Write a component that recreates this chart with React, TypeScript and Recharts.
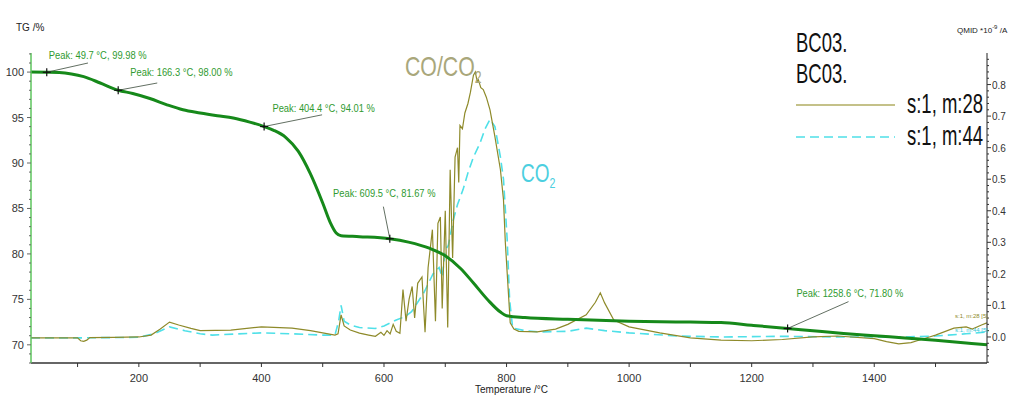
import React from "react";
import { ComposedChart, Line, XAxis, YAxis, ReferenceLine, ReferenceDot } from "recharts";

// TG curve (left axis, %)
const tgTemp = [24, 50, 70, 90, 110, 137, 166.3, 190, 218, 246, 272, 300, 328, 354, 381, 404.4, 420, 440, 460, 480, 500, 512, 522, 530, 560, 609.5, 640, 675, 700, 725, 746, 770, 790, 800, 830, 900, 1000, 1100, 1150, 1200, 1258.6, 1300, 1350, 1400, 1450, 1500, 1550, 1584];
const tgValue = [100, 99.98, 99.95, 99.8, 99.5, 98.8, 98.0, 97.65, 97.1, 96.4, 95.85, 95.5, 95.2, 94.95, 94.5, 94.01, 93.6, 92.8, 91.3, 88.8, 85.6, 83.5, 82.3, 82.0, 81.9, 81.67, 81.3, 80.6, 79.8, 78.4, 76.8, 74.9, 73.6, 73.2, 73.0, 72.8, 72.6, 72.5, 72.45, 72.15, 71.8, 71.55, 71.25, 71.0, 70.75, 70.5, 70.2, 70.0];

// QMID s:1, m:28 (right axis, 10^-9 A)
const m28Temp = [24, 60, 100, 105, 110, 115, 120, 160, 200, 220, 235, 250, 265, 285, 300, 350, 400, 450, 480, 500, 520, 525, 530, 535, 545, 560, 575, 586, 595, 600, 605, 610, 615, 620, 626, 631, 636, 641, 646, 650, 655, 662, 667, 672, 679, 684, 688, 692, 695, 700, 704, 708, 712, 716, 720, 722, 724, 728, 732, 737, 741, 746, 749, 752, 754, 758, 762, 767, 773, 781, 790, 795, 798, 803, 806, 812, 820, 850, 880, 900, 930, 945, 953, 960, 975, 1000, 1050, 1100, 1150, 1200, 1250, 1300, 1340, 1400, 1420, 1440, 1460, 1470, 1490, 1500, 1530, 1550, 1560, 1575, 1584];
const m28Value = [-0.003, -0.003, -0.003, -0.012, -0.014, -0.01, -0.002, -0.001, 0.0, 0.006, 0.025, 0.047, 0.038, 0.027, 0.02, 0.022, 0.032, 0.028, 0.02, 0.013, 0.006, 0.01, 0.07, 0.035, 0.022, 0.012, 0.006, 0.002, 0.015, 0.005, 0.02, 0.01, 0.04, 0.018, 0.012, 0.15, 0.05, 0.12, 0.16, 0.06, 0.17, 0.19, 0.015, 0.22, 0.34, 0.05, 0.36, 0.38, 0.09, 0.4, 0.03, 0.53, 0.25, 0.57, 0.6, 0.49, 0.67, 0.66, 0.71, 0.74, 0.775, 0.83, 0.84, 0.81, 0.815, 0.79, 0.784, 0.76, 0.72, 0.635, 0.53, 0.435, 0.3, 0.14, 0.045, 0.025, 0.018, 0.016, 0.025, 0.04, 0.07, 0.11, 0.14, 0.108, 0.054, 0.032, 0.013, -0.003, -0.01, -0.012, -0.008, 0.0, 0.003, -0.005, -0.015, -0.022, -0.018, -0.012, 0.0, 0.006, 0.028, 0.032, 0.025, 0.038, 0.045];

// QMID s:1, m:44
const m44Temp = [24, 100, 200, 225, 250, 275, 300, 320, 400, 450, 500, 520, 526, 530, 535, 545, 560, 586, 600, 620, 635, 645, 655, 665, 670, 680, 690, 695, 700, 705, 713, 720, 729, 737, 746, 757, 765, 773, 781, 790, 795, 801, 805, 810, 830, 855, 900, 930, 960, 1000, 1080, 1150, 1250, 1350, 1450, 1500, 1550, 1584];
const m44Value = [-0.003, -0.003, -0.001, 0.01, 0.032, 0.02, 0.01, 0.006, 0.013, 0.01, 0.006, 0.006, 0.05, 0.1, 0.05, 0.038, 0.03, 0.027, 0.035, 0.054, 0.065, 0.08, 0.11, 0.14, 0.16, 0.2, 0.22, 0.19, 0.276, 0.29, 0.37, 0.42, 0.467, 0.52, 0.57, 0.616, 0.66, 0.69, 0.667, 0.57, 0.5, 0.31, 0.117, 0.028, 0.02, 0.016, 0.018, 0.028, 0.02, 0.013, 0.003, 0.0, 0.002, 0.0, 0.0, 0.003, 0.01, 0.016];

// peak markers on TG, plus where their labels sit (data units)
const peakTemp = [49.7, 166.3, 404.4, 609.5, 1258.6];
const peakValue = [99.98, 98.0, 94.01, 81.67, 71.8];
const peakLabels = ["Peak: 49.7 °C, 99.98 %", "Peak: 166.3 °C, 98.00 %", "Peak: 404.4 °C, 94.01 %", "Peak: 609.5 °C, 81.67 %", "Peak: 1258.6 °C, 71.80 %"];
const labelTemp = [53, 186, 418, 517, 1273];
const labelValue = [101.45, 99.6, 95.6, 86.3, 75.3];
const leaderTemp = [117, 230, 499, 599, 1358];
const leaderValue = [101.0, 98.8, 95.3, 85.2, 74.75];

const tempTicks = [100, 200, 300, 400, 500, 600, 700, 800, 900, 1000, 1100, 1200, 1300, 1400, 1500];
const tgTicks = Array.from({ length: 35 }, (_, i) => 68 + i);
const qmidTicks = Array.from({ length: 49 }, (_, i) => Math.round((-0.08 + i * 0.02) * 100) / 100);

const TG_GREEN = "#16891a";
const OLIVE = "#8e8a2a";
const CYAN = "#4fe0e8";
const FONT = "'Liberation Sans', Arial, sans-serif";

const toPts = (ts: number[], vs: number[]) => ts.map((t, i) => ({ t, v: vs[i] }));

function TempTick({ x, y, payload }: any) {
  const v = payload.value;
  return (
    <g>
      <line x1={x} x2={x} y1={y} y2={y + 4} stroke="#333" />
      {v % 200 === 0 && (
        <text x={x} y={y + 19} textAnchor="middle" fontSize={11} fill="#333" fontFamily={FONT}>{v}</text>
      )}
    </g>
  );
}

function TgTick({ x, y, payload }: any) {
  const v = payload.value;
  const major = v % 5 === 0;
  return (
    <g>
      <line x1={x} x2={x - (major ? 4 : 2)} y1={y} y2={y} stroke="#666" />
      {major && v >= 70 && v <= 100 && (
        <text x={x - 7} y={y + 4} textAnchor="end" fontSize={11} fill="#333" fontFamily={FONT}>{v}</text>
      )}
    </g>
  );
}

function QmidTick({ x, y, payload }: any) {
  const v = payload.value;
  const major = Math.abs(v * 10 - Math.round(v * 10)) < 1e-6;
  return (
    <g>
      <line x1={x} x2={x + (major ? 4 : 2)} y1={y} y2={y} stroke="#333" />
      {major && v >= 0 && v <= 0.8 && (
        <text x={x + 5} y={y + 4} textAnchor="start" fontSize={10} fill="#333" fontFamily={FONT}>{v.toFixed(1)}</text>
      )}
    </g>
  );
}

export default function App() {
  const tgData = toPts(tgTemp, tgValue);
  const m28Data = toPts(m28Temp, m28Value);
  const m44Data = toPts(m44Temp, m44Value);

  const big = { position: "absolute" as const, fontFamily: FONT, fontSize: 28, lineHeight: "28px", whiteSpace: "nowrap" as const, transform: "scaleX(0.66)", transformOrigin: "left center", color: "#111" };

  return (
    <div style={{ position: "absolute", left: 0, top: 0, width: 1016, height: 396, background: "#fff", fontFamily: FONT }}>
      <ComposedChart width={1016} height={396} margin={{ top: 53, right: 0, bottom: 0, left: 0 }}>
        <XAxis
          xAxisId="t"
          dataKey="t"
          type="number"
          domain={[24, 1584]}
          ticks={tempTicks}
          interval={0}
          allowDataOverflow
          height={33}
          tickSize={0}
          tickMargin={0}
          tickLine={false}
          axisLine={{ stroke: "#333", strokeWidth: 1.5 }}
          tick={<TempTick />}
        />
        <YAxis
          yAxisId="tg"
          orientation="left"
          type="number"
          domain={[68, 102.1]}
          ticks={tgTicks}
          interval={0}
          allowDataOverflow
          width={31}
          tickSize={0}
          tickMargin={0}
          tickLine={false}
          axisLine={{ stroke: "#5cc45c", strokeWidth: 1.5 }}
          tick={<TgTick />}
        />
        <YAxis
          yAxisId="ms"
          orientation="right"
          type="number"
          domain={[-0.0825, 0.9]}
          ticks={qmidTicks}
          interval={0}
          allowDataOverflow
          width={29}
          tickSize={0}
          tickMargin={0}
          tickLine={false}
          axisLine={{ stroke: "#222" }}
          tick={<QmidTick />}
        />
        <Line xAxisId="t" yAxisId="ms" data={m44Data} dataKey="v" type="linear" stroke={CYAN} strokeWidth={1.6} strokeDasharray="9 5" dot={false} isAnimationActive={false} />
        <Line xAxisId="t" yAxisId="ms" data={m28Data} dataKey="v" type="linear" stroke={OLIVE} strokeWidth={1.2} dot={false} isAnimationActive={false} />
        <Line xAxisId="t" yAxisId="tg" data={tgData} dataKey="v" type="monotone" stroke={TG_GREEN} strokeWidth={3} dot={false} isAnimationActive={false} />
        {peakTemp.map((pt, i) => (
          <ReferenceLine
            key={`lead-${i}`}
            xAxisId="t"
            yAxisId="tg"
            segment={[{ x: pt, y: peakValue[i] }, { x: leaderTemp[i], y: leaderValue[i] }]}
            stroke="#3a4a3a"
            strokeWidth={0.8}
            ifOverflow="visible"
          />
        ))}
        {peakTemp.map((pt, i) => (
          <ReferenceDot
            key={`mark-${i}`}
            xAxisId="t"
            yAxisId="tg"
            x={pt}
            y={peakValue[i]}
            ifOverflow="visible"
            shape={(p: any) => (
              <g>
                <line x1={p.cx - 4} x2={p.cx + 4} y1={p.cy} y2={p.cy} stroke="#111" strokeWidth={1.2} />
                <line x1={p.cx} x2={p.cx} y1={p.cy - 4} y2={p.cy + 4} stroke="#111" strokeWidth={1.2} />
              </g>
            )}
          />
        ))}
        {peakLabels.map((lab, i) => (
          <ReferenceDot
            key={`lab-${i}`}
            xAxisId="t"
            yAxisId="tg"
            x={labelTemp[i]}
            y={labelValue[i]}
            ifOverflow="visible"
            shape={(p: any) => (
              <text x={p.cx} y={p.cy} fontSize={10} fill="#2f9a2f" fontFamily={FONT} textLength={lab.length * 4.45} lengthAdjust="spacingAndGlyphs">{lab}</text>
            )}
          />
        ))}
      </ComposedChart>

      {/* axis titles */}
      <div style={{ position: "absolute", left: 16, top: 22, fontSize: 10, color: "#222" }}>TG /%</div>
      <div style={{ position: "absolute", left: 957, top: 24, fontSize: 8, color: "#222", whiteSpace: "nowrap" }}>
        QMID *10<sup style={{ fontSize: 6 }}>-9</sup> /A
      </div>
      <div style={{ position: "absolute", left: 475, top: 384, fontSize: 10, lineHeight: "12px", color: "#222", whiteSpace: "nowrap" }}>Temperature /°C</div>

      {/* gas labels */}
      <div style={{ ...big, left: 405, top: 53, color: "#a9a77b", transform: "scaleX(0.76)" }}>
        CO/CO<sub style={{ fontSize: 16 }}>2</sub>
      </div>
      <div style={{ ...big, left: 521, top: 159, fontSize: 25, color: "#4ccfe0", transform: "scaleX(0.76)" }}>
        CO<sub style={{ fontSize: 14 }}>2</sub>
      </div>

      {/* legend */}
      <div style={{ ...big, left: 796, top: 29 }}>BC03.</div>
      <div style={{ ...big, left: 796, top: 60 }}>BC03.</div>
      <svg style={{ position: "absolute", left: 796, top: 96 }} width={100} height={50}>
        <line x1={0} x2={99} y1={9} y2={9} stroke="#b0ac62" strokeWidth={1.5} />
        <line x1={0} x2={99} y1={41} y2={41} stroke={CYAN} strokeWidth={1.5} strokeDasharray="9 5" />
      </svg>
      <div style={{ ...big, left: 907, top: 90 }}>s:1, m:28</div>
      <div style={{ ...big, left: 907, top: 122 }}>s:1, m:44</div>

      {/* small end-of-curve tags */}
      <div style={{ position: "absolute", left: 955, top: 313, fontSize: 6, color: OLIVE, whiteSpace: "nowrap" }}>s:1, m:28 [5]</div>
      <div style={{ position: "absolute", left: 955, top: 327, fontSize: 6, color: "#36c8d8", whiteSpace: "nowrap" }}>s:1, m:44 [5]</div>
    </div>
  );
}
